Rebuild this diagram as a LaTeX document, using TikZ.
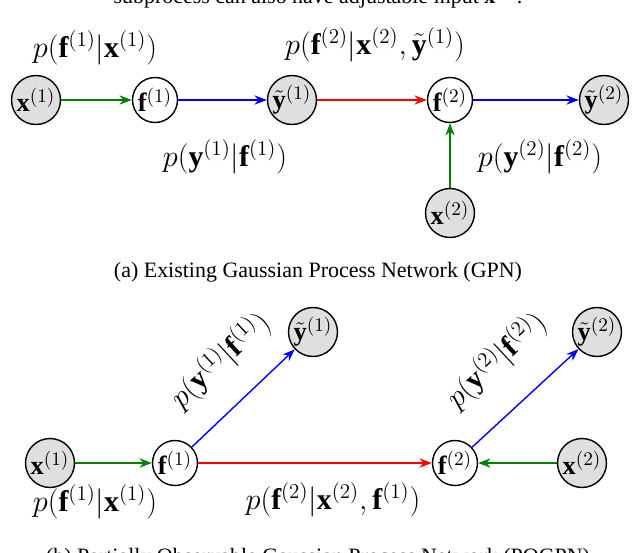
\documentclass[tikz,border=0pt]{standalone}
\usepackage{fontspec}
\setmainfont{Liberation Serif}
\usetikzlibrary{arrows.meta}
\definecolor{dgreen}{RGB}{0,130,0}
\begin{document}
\begin{tikzpicture}[x=0.02cm,y=-0.02cm,
  obs/.style={circle,draw,thick,fill=gray!25,minimum size=0.98cm,inner sep=0pt,font=\fontsize{15}{17}\selectfont},
  lat/.style={circle,draw,thick,fill=white,minimum size=0.9cm,inner sep=0pt,font=\fontsize{15}{17}\selectfont},
  arr/.style={-{Stealth[length=7pt]},thick},
  lab/.style={font=\fontsize{17}{19}\selectfont}]
\useasboundingbox (0,0) rectangle (636,552);
\clip (0,0) rectangle (636,552);
% top cut text
\node[anchor=center,font=\fontsize{12.5}{14}\selectfont] (top) at (318,-4) {subprocess can also have adjustable input $\mathbf{x}^{(2)}$.};
% (a)
\node[obs] (ax1) at (36,100) {$\mathbf{x}^{(1)}$};
\node[lat] (af1) at (155,100) {$\mathbf{f}^{(1)}$};
\node[obs] (ay1) at (292,100) {$\tilde{\mathbf{y}}^{(1)}$};
\node[lat] (af2) at (450,100) {$\mathbf{f}^{(2)}$};
\node[obs] (ay2) at (604,100) {$\tilde{\mathbf{y}}^{(2)}$};
\node[obs] (ax2) at (450,213) {$\mathbf{x}^{(2)}$};
\draw[arr,dgreen] (ax1) -- (af1);
\draw[arr,blue] (af1) -- (ay1);
\draw[arr,red] (ay1) -- (af2);
\draw[arr,blue] (af2) -- (ay2);
\draw[arr,dgreen] (ax2) -- (af2);
\node[lab] (la1) at (95,48) {$p(\mathbf{f}^{(1)}|\mathbf{x}^{(1)})$};
\node[lab] (la2) at (375,45) {$p(\mathbf{f}^{(2)}|\mathbf{x}^{(2)},\tilde{\mathbf{y}}^{(1)})$};
\node[lab] (la3) at (225,157) {$p(\mathbf{y}^{(1)}|\mathbf{f}^{(1)})$};
\node[lab] (la4) at (540,157) {$p(\mathbf{y}^{(2)}|\mathbf{f}^{(2)})$};
\node[font=\fontsize{12.5}{14}\selectfont] (capa) at (318,272) {(a) Existing Gaussian Process Network (GPN)};
% (b)
\node[obs] (bx1) at (50,463) {$\mathbf{x}^{(1)}$};
\node[lat] (bf1) at (175,463) {$\mathbf{f}^{(1)}$};
\node[obs] (by1) at (313,332) {$\tilde{\mathbf{y}}^{(1)}$};
\node[lat] (bf2) at (455,463) {$\mathbf{f}^{(2)}$};
\node[obs] (bx2) at (582,463) {$\mathbf{x}^{(2)}$};
\node[obs] (by2) at (597,332) {$\tilde{\mathbf{y}}^{(2)}$};
\draw[arr,dgreen] (bx1) -- (bf1);
\draw[arr,blue] (bf1) -- (by1);
\draw[arr,red] (bf1) -- (bf2);
\draw[arr,blue] (bf2) -- (by2);
\draw[arr,dgreen] (bx2) -- (bf2);
\node[lab] (lb1) at (95,502) {$p(\mathbf{f}^{(1)}|\mathbf{x}^{(1)})$};
\node[lab] (lb2) at (333,500) {$p(\mathbf{f}^{(2)}|\mathbf{x}^{(2)},\mathbf{f}^{(1)})$};
\node[lab,rotate=43] (lb3) at (220,360) {$p(\mathbf{y}^{(1)}|\mathbf{f}^{(1)})$};
\node[lab,rotate=43] (lb4) at (496,360) {$p(\mathbf{y}^{(2)}|\mathbf{f}^{(2)})$};
\node[font=\fontsize{12.5}{14}\selectfont] (capb) at (318,558) {(b) Partially Observable Gaussian Process Network (POGPN)};
\end{tikzpicture}
\end{document}
